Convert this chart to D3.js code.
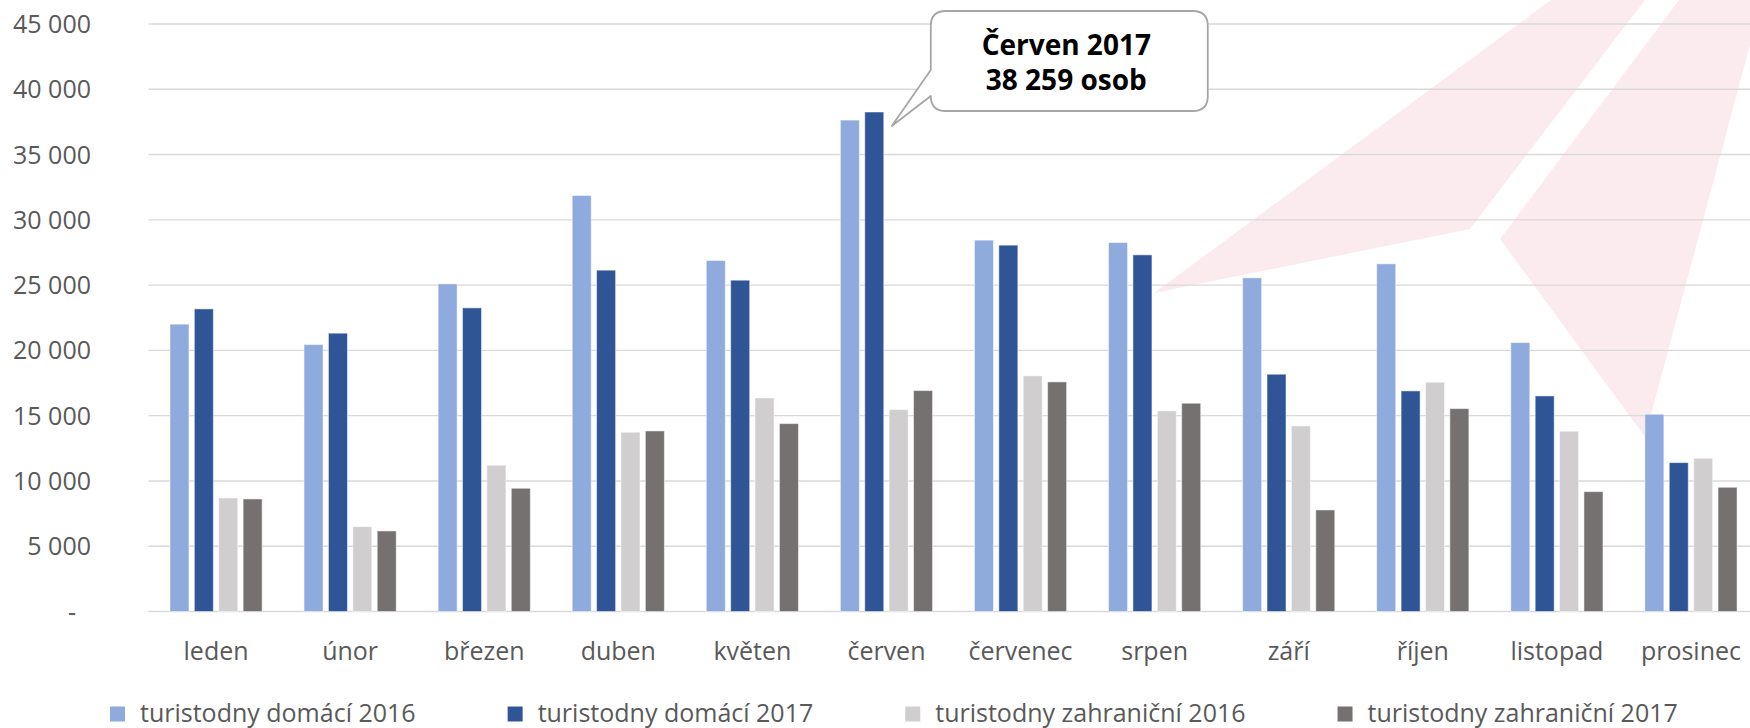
<!DOCTYPE html>
<html lang="cs">
<head>
<meta charset="utf-8">
<title>Turistodny 2016–2017</title>
<script src="https://cdn.jsdelivr.net/npm/d3@7"></script>
<style>
  html, body { margin: 0; padding: 0; background: #fff; }
  svg { display: block; font-family: "Open Sans", "Noto Sans", sans-serif; }
</style>
</head>
<body>
<svg id="chart" width="1750" height="728"></svg>
<script>
// Měsíce a počty turistodnů (osoby)
const months = ["leden", "únor", "březen", "duben", "květen", "červen",
  "červenec", "srpen", "září", "říjen", "listopad", "prosinec"];

const domaci2016 = [22008, 20445, 25096, 31863, 26882, 37640, 28445, 28264, 25556, 26630, 20600, 15110];
const domaci2017 = [23180, 21318, 23257, 26146, 25377, 38259, 28062, 27318, 18175, 16897, 16514, 11404];
const zahranicni2016 = [8697, 6500, 11200, 13730, 16360, 15466, 18046, 15364, 14215, 17562, 13808, 11738];
const zahranicni2017 = [8621, 6169, 9440, 13830, 14393, 16922, 17587, 15953, 7778, 15541, 9180, 9515];

const seriesNames = ["turistodny domácí 2016", "turistodny domácí 2017",
  "turistodny zahraniční 2016", "turistodny zahraniční 2017"];
const seriesColors = ["#8faadc", "#2f5597", "#d0cece", "#767171"];

const yTicks = [0, 5000, 10000, 15000, 20000, 25000, 30000, 35000, 40000, 45000];

// Zvýrazněný údaj v bublině
const highlightMonth = "červen";
const highlightSeries = 1;
const highlightTitle = "Červen 2017";

const series = [domaci2016, domaci2017, zahranicni2016, zahranicni2017];

const svg = d3.select("#chart");
const W = 1750, H = 728;
const plot = { left: 149, right: 1758, top: 24, bottom: 611.5 };

const csLocale = d3.formatLocale({ decimal: ",", thousands: " ", grouping: [3], currency: ["", " Kč"] });
const fmt = csLocale.format(",d");

const x0 = d3.scaleBand().domain(months).range([plot.left, plot.right]).padding(0);
const groupW = x0.bandwidth() * 0.6875;
const x1 = d3.scaleBand().domain(d3.range(series.length))
  .range([(x0.bandwidth() - groupW) / 2, (x0.bandwidth() + groupW) / 2])
  .paddingInner(0.22);
const y = d3.scaleLinear().domain([0, 45000]).range([plot.bottom, plot.top]);

// Světle červený podkladový motiv
const bg = svg.append("g").attr("fill", "#fcebee");
bg.append("polygon").attr("points", [[1551, 0], [1645, 0], [1470, 229], [1154, 293]].join(" "));
bg.append("polygon").attr("points", [[1679, 0], [1762, 0], [1645, 437], [1500, 239]].join(" "));

// Vodorovná mřížka
svg.append("g")
  .selectAll("line")
  .data(yTicks)
  .join("line")
  .attr("x1", plot.left - 0.5)
  .attr("x2", W)
  .attr("y1", d => y(d))
  .attr("y2", d => y(d))
  .attr("stroke", "#d9d9d9")
  .attr("stroke-width", 1.4);

// Popisky osy Y
svg.append("g")
  .selectAll("text")
  .data(yTicks)
  .join("text")
  .attr("x", d => d === 0 ? 76 : 91)
  .attr("y", d => y(d))
  .attr("dy", "0.36em")
  .attr("text-anchor", "end")
  .attr("font-size", 25)
  .attr("fill", "#595959")
  .text(d => d === 0 ? "-" : fmt(d));

// Sloupce
const groups = svg.append("g")
  .selectAll("g")
  .data(months)
  .join("g")
  .attr("transform", d => `translate(${x0(d)},0)`);

groups.selectAll("rect")
  .data((m, i) => series.map((s, k) => ({ k, v: s[i] })))
  .join("rect")
  .attr("x", d => x1(d.k))
  .attr("width", x1.bandwidth())
  .attr("y", d => y(d.v))
  .attr("height", d => y(0) - y(d.v))
  .attr("fill", d => seriesColors[d.k])
  .attr("stroke", "#fff")
  .attr("stroke-opacity", 0.5)
  .attr("stroke-width", 1);

// Popisky osy X
svg.append("g")
  .selectAll("text")
  .data(months)
  .join("text")
  .attr("x", d => x0(d) + x0.bandwidth() / 2)
  .attr("y", 660)
  .attr("text-anchor", "middle")
  .attr("font-size", 25)
  .attr("fill", "#595959")
  .text(d => d);

// Bublina s popisem maxima
const hIdx = months.indexOf(highlightMonth);
const hVal = series[highlightSeries][hIdx];
const tipX = x0(highlightMonth) + x1(highlightSeries) + x1.bandwidth() + 8;
const tipY = y(hVal) + 14;
const box = { l: tipX + 39, t: 11, w: 277, h: 100, r: 15 };
box.rgt = box.l + box.w; box.b = box.t + box.h;
const py1 = tipY - 56, py2 = tipY - 30;
const p = d3.path();
p.moveTo(box.l + box.r, box.t);
p.lineTo(box.rgt - box.r, box.t);
p.quadraticCurveTo(box.rgt, box.t, box.rgt, box.t + box.r);
p.lineTo(box.rgt, box.b - box.r);
p.quadraticCurveTo(box.rgt, box.b, box.rgt - box.r, box.b);
p.lineTo(box.l + box.r, box.b);
p.quadraticCurveTo(box.l, box.b, box.l, box.b - box.r);
p.lineTo(box.l, py2);
p.lineTo(tipX, tipY);
p.lineTo(box.l, py1);
p.lineTo(box.l, box.t + box.r);
p.quadraticCurveTo(box.l, box.t, box.l + box.r, box.t);
p.closePath();

const callout = svg.append("g");
callout.append("path")
  .attr("d", p.toString())
  .attr("fill", "#fff")
  .attr("stroke", "#a6a6a6")
  .attr("stroke-width", 1.8)
  .attr("stroke-linejoin", "round");
callout.append("text")
  .attr("x", box.l + box.w / 2 - 3)
  .attr("y", 55)
  .attr("text-anchor", "middle")
  .attr("font-size", 28)
  .attr("font-weight", 700)
  .attr("fill", "#000")
  .text(highlightTitle);
callout.append("text")
  .attr("x", box.l + box.w / 2 - 3)
  .attr("y", 90)
  .attr("text-anchor", "middle")
  .attr("font-size", 28)
  .attr("font-weight", 700)
  .attr("fill", "#000")
  .text(`${fmt(hVal)} osob`);

// Legenda
const legend = svg.append("g");
let lx = 110;
seriesNames.forEach((name, k) => {
  legend.append("rect")
    .attr("x", lx).attr("y", 706.5)
    .attr("width", 15).attr("height", 15)
    .attr("fill", seriesColors[k]);
  const t = legend.append("text")
    .attr("x", lx + 30).attr("y", 722)
    .attr("font-size", 25)
    .attr("fill", "#595959")
    .text(name);
  lx += 30 + t.node().getComputedTextLength() + 92;
});
</script>
</body>
</html>
